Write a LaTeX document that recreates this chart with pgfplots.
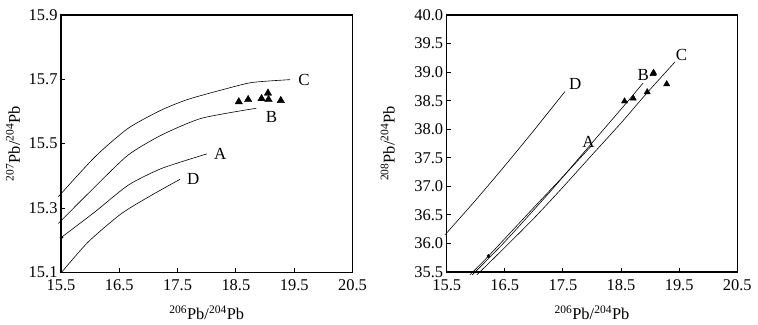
\documentclass[border=0pt]{standalone}
\usepackage{fontspec}
\setmainfont{Liberation Serif}
\usepackage{pgfplots}
\pgfplotsset{compat=1.18}

\pgfplotsset{
  pbaxis/.style={
    scale only axis, clip=false,
    axis line style={line width=1.1pt},
    xmin=15.5, xmax=20.5, xtick={15.5,16.5,17.5,18.5,19.5,20.5},
    xtick pos=bottom, ytick pos=left,
    tick align=inside, major tick length=4bp,
    tick style={line width=0.9pt, black},
    tick label style={font=\fontsize{16.5}{18}\selectfont},
    xticklabel style={yshift=-4bp},
    label style={font=\fontsize{16.5}{18}\selectfont},
    /pgf/number format/fixed, /pgf/number format/fixed zerofill,
    /pgf/number format/precision=1,
    /pgf/number format/assume math mode=true,
    xlabel={\textsuperscript{206}Pb/\textsuperscript{204}Pb},
    xlabel style={at={(axis description cs:0.5,-0.158)}, anchor=center},
  },
  curve/.style={black, line width=0.6pt, smooth, tension=0.4, no markers},
  tri/.style={only marks, mark=triangle*, mark options={fill=black, draw=black}},
  dot/.style={only marks, mark=*, mark size=1.6pt, mark options={fill=black}},
}
\tikzset{lab/.style={font=\fontsize{17}{17}\selectfont}}

\begin{document}
\begin{tikzpicture}
\path[use as bounding box] (0,0) rectangle (758bp,325bp);

% left: 207Pb/204Pb vs 206Pb/204Pb
\begin{axis}[pbaxis,
  at={(61bp,52.7bp)}, anchor=south west,
  width=291.5bp, height=257.3bp,
  ymin=15.1, ymax=15.9, ytick={15.1,15.3,15.5,15.7,15.9},
  ylabel={\textsuperscript{207}Pb/\textsuperscript{204}Pb},
  ylabel style={at={(axis description cs:-0.165,0.5)}, anchor=center},
]
\addplot[curve] coordinates {(15.454,15.335) (16.083,15.459) (16.654,15.548) (17.227,15.605) (17.684,15.638) (18.256,15.667) (18.77,15.690) (19.43,15.699)};
\addplot[curve] coordinates {(15.454,15.252) (16.083,15.366) (16.654,15.465) (17.227,15.527) (17.913,15.579) (18.85,15.610)};
\addplot[curve] coordinates {(15.51,15.209) (16.083,15.288) (16.654,15.371) (17.227,15.423) (18.0,15.468)};
\addplot[curve] coordinates {(15.51,15.1) (15.97,15.195) (16.54,15.283) (17.056,15.340) (17.54,15.389)};
\addplot[dot] coordinates {(15.51,15.209)};
\addplot[tri, mark size=4.3pt] coordinates {(18.55,15.630) (18.71,15.637) (18.94,15.640) (19.05,15.657) (19.06,15.637) (19.27,15.634)};
\node[lab] at (axis cs:19.67,15.698) {C};
\node[lab] at (axis cs:19.11,15.582) {B};
\node[lab] at (axis cs:18.23,15.468) {A};
\node[lab] at (axis cs:17.77,15.390) {D};
\end{axis}

% right: 208Pb/204Pb vs 206Pb/204Pb
\begin{axis}[pbaxis,
  at={(446.7bp,53bp)}, anchor=south west,
  width=290.6bp, height=257bp,
  ymin=35.5, ymax=40, ytick={35.5,36,36.5,37,37.5,38,38.5,39,39.5,40},
  ylabel={\textsuperscript{208}Pb/\textsuperscript{204}Pb},
  ylabel style={at={(axis description cs:-0.203,0.5)}, anchor=center},
]
\addplot[curve] coordinates {(15.47,36.15) (16.0,36.76) (16.5,37.36) (17.0,37.98) (17.535,38.66)};
\addplot[curve] coordinates {(15.90,35.45) (16.22,35.78) (17.0,36.63) (17.5,37.17) (18.0,37.72)};
\addplot[curve] coordinates {(15.94,35.45) (16.5,36.03) (17.3,36.93) (18.0,37.76) (18.6,38.47) (18.88,38.81)};
\addplot[curve] coordinates {(16.02,35.45) (16.5,35.93) (17.0,36.44) (17.45,36.93) (18.0,37.55) (18.5,38.11) (18.95,38.64) (19.43,39.18)};
\addplot[dot] coordinates {(16.22,35.78)};
\addplot[tri, mark size=3.6pt] coordinates {(18.56,38.49) (18.71,38.54) (18.95,38.65) (19.05,38.97) (19.06,38.99) (19.285,38.79)};
\node[lab] at (axis cs:17.71,38.79) {D};
\node[lab] at (axis cs:18.88,38.95) {B};
\node[lab] at (axis cs:19.54,39.30) {C};
\node[lab] at (axis cs:17.94,37.78) {A};
\end{axis}
\end{tikzpicture}
\end{document}
